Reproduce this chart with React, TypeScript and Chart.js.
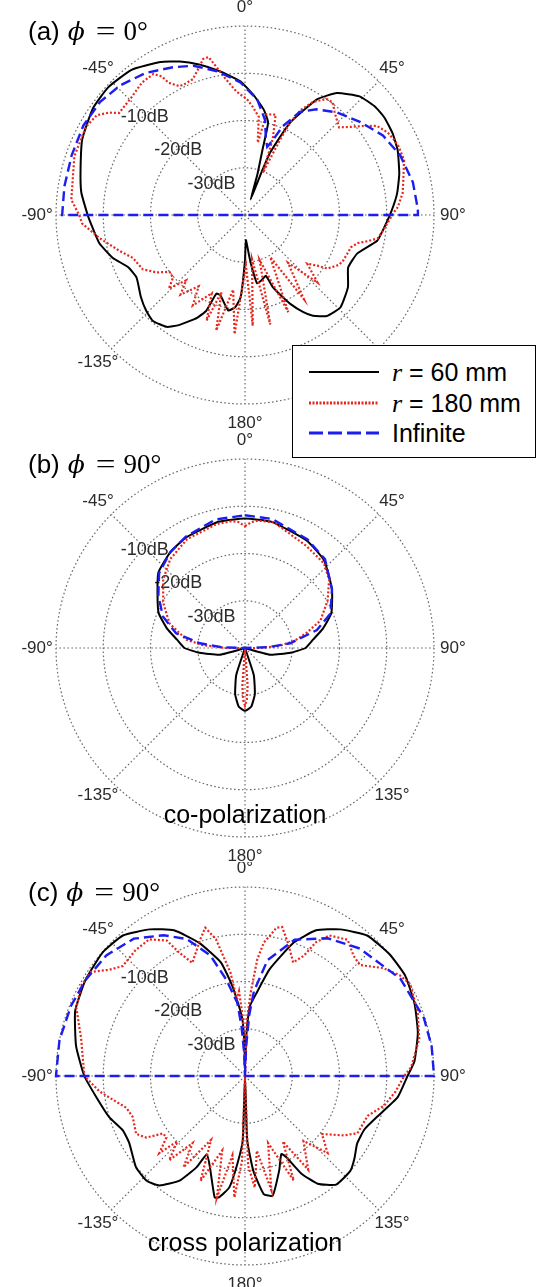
import React, { useEffect, useRef } from 'react';
import { Chart, registerables } from 'chart.js';

Chart.register(...registerables);

// ---------- axis / tick definitions ----------
const ANGLE_LABELS = Array.from({ length: 360 }, (_, i) => `${i}°`);
const ANGLE_TICK_DEGS = [0, 45, 90, 135, 180, 225, 270, 315];
const ANGLE_TICK_TEXT = ['0°', '45°', '90°', '135°', '180°', '-135°', '-90°', '-45°'];
const RING_VALUES = [-10, -20, -30];
const RING_TEXT = ['-10dB', '-20dB', '-30dB'];
const SERIES_NAMES = ['r = 60 mm', 'r = 180 mm', 'Infinite'];

// ---------- data: [angle (deg, clockwise from top), level (dB)] ----------
const aBlack: [number, number][] = [
  [4, -14.5], [10, -17.3], [14, -19.8], [15, -25.7], [17, -31], [20, -36.5], [21, -31], [22, -25.7],
  [26, -18.3], [32, -11.1], [37, -7.7], [44, -5.1], [50, -4.2], [55, -4.0], [61, -4.3], [67, -4.9],
  [75, -6.2], [82, -7.5], [89, -9.1], [95, -10.4], [101, -11.5], [109, -14.9], [117, -15.5], [125, -13.4],
  [134, -11.9], [141, -12.5], [146, -14.3], [149, -16], [153, -18.9], [156, -21.4], [159, -23.7], [161, -26.4],
  [166, -25.7], [170, -25.3], [172, -28], [174, -31], [178, -34.7], [180, -30.4], [183, -22.6], [186, -20.4],
  [190, -19.5], [197, -22.2], [200, -22.3], [202, -18.2], [205, -16], [211, -12.8], [215, -11.1], [221, -10.3],
  [226, -10.9], [232, -12], [240, -13.5], [246, -12.9], [252, -10.6], [259, -8.6], [267, -7.3], [270, -6.7],
  [278, -5.0], [286, -3.8], [295, -2.0], [305, -0.7], [313, -0.4], [322, -1.0], [331, -3.0], [337, -4.7],
  [343, -6.7], [350, -9.1], [358, -11.7],
];
const aRed: [number, number][] = [
  [1, -15.5], [4, -17], [8, -19], [10, -24.5], [12, -18.2], [17, -17.8], [20, -22.8], [23, -30.3],
  [24, -27], [25, -22.4], [26, -18.2], [28, -14.8], [31, -12.1], [35, -10], [38, -9.8], [41, -11.1],
  [47, -12.8], [50, -11], [53, -8.7], [56, -6.3], [60, -5.1], [63, -4.7], [66, -4.4], [71, -4.4],
  [77, -5.6], [82, -6.3], [87, -7.6], [89, -8.5], [96, -10.5], [100, -11.5], [102, -13.4], [104, -15.4],
  [107, -16.6], [110, -16.8], [115, -17.1], [118, -17.5], [123, -19.2], [125, -21.3], [128, -23.3], [133, -19],
  [138, -26.4], [145, -18.3], [149, -29.6], [156, -17.5], [162, -30], [167, -16.2], [171, -30.5], [176, -16.5],
  [179, -29.4], [185, -14.7], [189, -24], [194, -14.8], [197, -22.9], [200, -16.2], [203, -22], [210, -17.9],
  [213, -22], [219, -18.3], [222, -21.4], [226, -17.6], [229, -19.8], [233, -20], [237, -17.7], [242, -15.5],
  [249, -14.6], [254, -12.4], [261, -8.8], [267, -5.5], [270, -4.9], [275, -3.1], [289, -1.8], [299, -1.5],
  [304, -2.2], [307, -4], [309, -5.7], [316, -5.4], [322, -4.5], [327, -4.4], [329, -5.8], [330, -7.7],
  [333, -9.4], [335, -9.5], [339, -9.2], [343, -7.1], [345, -5.8], [347, -5.7], [349, -8], [352, -11],
  [356, -13.8],
];
const aBlue: [number, number][] = [
  [6, -15.4], [12, -19.5], [15, -23], [18, -24.8], [20, -23.5], [23, -19.6], [28, -15.3], [34, -13],
  [42, -10.8], [51, -8.7], [60, -6.3], [69, -4.8], [79, -3.8], [88, -3.4], [90, -3.4], [180, -40],
  [270, -1.3], [279, -1.3], [289, -1.2], [299, -0.9], [308, -1.1], [316, -1.9], [325, -3.3], [334, -5.2],
  [341, -6.6], [349, -9], [358, -11.9],
];

const bBlack: [number, number][] = [
  [0, -12.6], [12, -12.7], [30, -13.8], [42, -15], [56, -17.8], [68, -20.3], [76, -23], [83, -25.5],
  [90, -27.2], [96, -30.3], [105, -34.5], [118, -40], [150, -40], [162, -34], [168, -30], [174, -27.5],
  [180, -26.7], [186, -27.5], [192, -30], [198, -34], [210, -40], [242, -40], [255, -34.5], [264, -30.3],
  [270, -27.2], [277, -25.5], [284, -23], [292, -20.3], [301, -18.4], [311, -15.7], [322, -14.3], [332, -13.5],
  [348, -12.7],
];
const bRed: [number, number][] = [
  [0, -14.2], [3, -13.3], [6, -12.9], [13, -12.7], [31, -14.8], [43, -15.5], [51, -17.1], [60, -19.8],
  [70, -23], [76, -26.5], [82, -29.5], [87, -33], [91, -38], [96, -40], [172, -40], [176, -32],
  [178, -29], [180, -27.8], [182, -29], [184, -32], [188, -40], [266, -40], [270, -36], [274, -31],
  [278, -27.5], [288, -23.2], [299, -20.2], [310, -17.4], [320, -15.4], [332, -13.9], [347, -13.1], [354, -13],
  [357, -13.3],
];
const bBlue: [number, number][] = [
  [0, -11.9], [12, -12.1], [30, -13.5], [42, -14.7], [56, -17.8], [68, -20.5], [76, -24.3], [84, -30.4],
  [88, -35], [90, -40], [270, -40], [272, -35], [276, -30.4], [282, -25.1], [291, -21.4], [301, -18.6],
  [311, -15.9], [322, -14.3], [332, -13.3], [347, -12.1],
];

const cBlack: [number, number][] = [
  [0, -38], [2, -31], [4, -25.2], [8, -22.2], [13, -16.8], [20, -10], [26, -5.7], [33, -3],
  [41, -0.6], [50, 0], [58, 0], [67, -1], [76, -2.3], [85, -4], [90, -5.6], [98, -7.4],
  [107, -10.7], [114, -12.3], [121, -12.3], [127, -11], [132, -10], [140, -10], [146, -12.5], [150, -16.2],
  [153, -20.7], [155, -21.8], [160, -18.8], [167, -14], [171, -14.7], [175, -19.9], [178, -26.4], [180, -40],
  [182, -26.4], [185, -21.3], [188, -16.2], [192, -13.8], [194, -13.5], [201, -19.3], [206, -21.6], [208, -18.1],
  [212, -13.9], [218, -10.6], [223, -9.6], [230, -9.9], [240, -11.7], [246, -11.7], [253, -10], [262, -8.2],
  [270, -6], [280, -3.7], [291, -1.5], [301, -0.6], [311, -0.1], [319, -0.6], [327, -3], [334, -5.7],
  [341, -10.2], [348, -15.4], [352, -20.8], [357, -27.4], [359, -33],
];
const cRed: [number, number][] = [
  [0, -40], [2, -28], [4, -22], [6, -15.2], [8, -11.5], [10, -9.9], [12, -7.9], [14, -7.5],
  [18, -10.5], [23, -13.9], [26, -11.7], [28, -7.9], [31, -5.3], [37, -3.9], [42, -5.7], [46, -6.2],
  [52, -2.9], [57, -0.9], [61, 0], [66, -0.7], [70, -1.1], [78, -2.3], [87, -4.8], [90, -6.3],
  [96, -8], [102, -9.9], [108, -12.7], [117, -13.3], [121, -15.6], [127, -19.6], [133, -16.1], [138, -21.5],
  [146, -16.1], [150, -24], [155, -15.6], [161, -25], [167, -15.2], [171, -24], [175, -16.3], [178, -21],
  [180, -40], [182, -22], [185, -14.2], [189, -23], [193, -13.6], [197, -23.5], [203, -15.9], [208, -24.7],
  [214, -16.7], [218, -22], [222, -16], [226, -20.1], [228, -15.6], [232, -18.9], [235, -18.8], [238, -15.4],
  [242, -13.9], [250, -14.7], [255, -14], [260, -11.5], [264, -9], [270, -6], [283, -4.4], [292, -1.5],
  [299, -0.4], [304, -0.6], [308, -3.5], [312, -5.2], [319, -4.7], [325, -4.7], [330, -6.9], [332, -10.5],
  [335, -13.6], [342, -9.5], [345, -7.5], [348, -10.4], [352, -17.9], [354, -23.7], [356, -22], [358, -28],
];
const cBlue: [number, number][] = [
  [0, -40], [2, -34], [4, -27], [6, -22], [11, -15], [20, -9.3], [31, -6], [42, -3.7],
  [58, -1.2], [72, -0.2], [81, 0], [90, 0], [180, -40], [270, 0], [281, 0], [292, -0.3],
  [301, -0.6], [311, -1.1], [321, -2.6], [330, -5.6], [337, -8.5], [344, -13.5], [349, -19.2], [354, -24.4],
  [356, -29.5], [358, -35.2],
];

// ---------- panel descriptions ----------
const PANELS = [
  { key: 'a', tag: '(a)', phi: '0°', caption: '', top: 0, height: 432, pad: { left: 56, right: 103, top: 26, bottom: 28 }, black: aBlack, red: aRed, blue: aBlue },
  { key: 'b', tag: '(b)', phi: '90°', caption: 'co-polarization', top: 432, height: 430, pad: { left: 56, right: 103, top: 27, bottom: 25 }, black: bBlack, red: bRed, blue: bBlue },
  { key: 'c', tag: '(c)', phi: '90°', caption: 'cross polarization', top: 862, height: 425, pad: { left: 56, right: 103, top: 25, bottom: 22 }, black: cBlack, red: cRed, blue: cBlue },
];

const COLORS = { black: '#000000', red: '#e8261c', blue: '#1d1df0', grid: '#6a6a6a', label: '#2b2b2b' };
const SANS = '"Liberation Sans", Arial, Helvetica, sans-serif';
const SERIF = '"DejaVu Serif", "Liberation Serif", serif';
const SERIF_TEXT = '"Liberation Serif", "Times New Roman", serif';

function toSeries(pairs: [number, number][]) {
  const out: (number | null)[] = new Array(ANGLE_LABELS.length).fill(null);
  pairs.forEach(([a, v]) => {
    const idx = ((Math.round(a) % 360) + 360) % 360;
    out[idx] = v;
  });
  return out;
}

function decorPlugin(panel: typeof PANELS[number]) {
  return {
    id: 'decor' + panel.key,
    beforeDatasetsDraw(chart: any) {
      const s = chart.scales.r;
      const cx = s.xCenter;
      const cy = s.yCenter;
      const R = s.drawingArea;
      const ctx = chart.ctx as CanvasRenderingContext2D;
      ctx.save();
      ctx.fillStyle = COLORS.label;
      ctx.textAlign = 'center';
      ctx.textBaseline = 'middle';
      ctx.font = `17px ${SANS}`;
      ANGLE_TICK_DEGS.forEach((deg, i) => {
        const t = (deg * Math.PI) / 180;
        ctx.fillText(ANGLE_TICK_TEXT[i], cx + Math.sin(t) * R * 1.1, cy - Math.cos(t) * R * 1.1);
      });
      ctx.font = `18px ${SANS}`;
      RING_VALUES.forEach((v, i) => {
        const d = s.getDistanceFromCenterForValue(v);
        ctx.fillText(RING_TEXT[i], cx - d * Math.SQRT1_2, cy - d * Math.SQRT1_2 + 2);
      });
      // panel title
      ctx.fillStyle = '#000';
      ctx.textAlign = 'left';
      let x = cx - 217;
      const y = cy - 182;
      ctx.font = `26px ${SANS}`;
      ctx.fillText(panel.tag, x, y);
      x += ctx.measureText(panel.tag).width + 8;
      ctx.font = `italic 25px ${SERIF}`;
      ctx.fillText('ϕ', x, y);
      x += ctx.measureText('ϕ').width + 11;
      ctx.font = `27px ${SERIF_TEXT}`;
      ctx.save();
      ctx.translate(x, y);
      ctx.scale(1.3, 1);
      ctx.fillText('=', 0, 0);
      ctx.restore();
      x += ctx.measureText('=').width * 1.3 + 8;
      ctx.fillText(panel.phi, x, y);
      if (panel.caption) {
        ctx.textAlign = 'center';
        ctx.font = `25px ${SANS}`;
        ctx.fillText(panel.caption, cx, cy + 168);
      }
      ctx.restore();
    },
  };
}

function PolarPanel({ panel }: { panel: typeof PANELS[number] }) {
  const ref = useRef<HTMLCanvasElement>(null);
  useEffect(() => {
    const canvas = ref.current;
    if (!canvas) return;
    const chart = new Chart(canvas, {
      type: 'radar',
      data: {
        labels: ANGLE_LABELS,
        datasets: [
          {
            label: SERIES_NAMES[2],
            data: toSeries(panel.blue),
            borderColor: COLORS.blue,
            borderWidth: 2.4,
            borderDash: [10, 5],
            tension: 0,
          },
          {
            label: SERIES_NAMES[1],
            data: toSeries(panel.red),
            borderColor: COLORS.red,
            borderWidth: 2.2,
            borderDash: [2, 2],
            tension: 0,
          },
          {
            label: SERIES_NAMES[0],
            data: toSeries(panel.black),
            borderColor: COLORS.black,
            borderWidth: 2,
            tension: 0.15,
          },
        ].map((d) => ({ ...d, fill: false, spanGaps: true, pointRadius: 0, pointHoverRadius: 0, backgroundColor: 'transparent' })),
      },
      options: {
        animation: false,
        responsive: false,
        devicePixelRatio: 1,
        events: [],
        layout: { padding: panel.pad },
        plugins: { legend: { display: false }, tooltip: { enabled: false }, title: { display: false } },
        scales: {
          r: {
            min: -40,
            max: 0,
            startAngle: 0,
            ticks: { display: false, stepSize: 10 },
            pointLabels: { display: false },
            grid: { circular: true, color: COLORS.grid, lineWidth: 1.2 },
            border: { dash: [1.6, 2.4] },
            angleLines: {
              display: true,
              color: COLORS.grid,
              lineWidth: (c: any) => (c.index % 45 === 0 ? 1.2 : 0),
              borderDash: [1.6, 2.4],
            },
          },
        },
      } as any,
      plugins: [decorPlugin(panel)],
    });
    return () => chart.destroy();
  }, [panel]);
  return (
    <canvas
      ref={ref}
      width={537}
      height={panel.height}
      style={{ position: 'absolute', left: 0, top: panel.top, width: 537, height: panel.height, display: 'block' }}
    />
  );
}

const LEGEND_ROWS = [
  { name: SERIES_NAMES[0], color: COLORS.black, dash: '', width: 2.2, y: 26 },
  { name: SERIES_NAMES[1], color: COLORS.red, dash: '2 1.5', width: 3, y: 57 },
  { name: SERIES_NAMES[2], color: COLORS.blue, dash: '14 5', width: 3, y: 87 },
];

function Legend() {
  return (
    <div
      style={{
        position: 'absolute', left: 292, top: 345, width: 242, height: 111,
        border: '1.5px solid #000', background: '#fff', zIndex: 5, fontFamily: SANS, fontSize: 25, color: '#000',
      }}
    >
      {LEGEND_ROWS.map((row) => {
        const isR = row.name.startsWith('r ');
        return (
          <div key={row.name} style={{ position: 'absolute', left: 0, top: row.y - 15, height: 30, width: 242 }}>
            <svg width={90} height={30} style={{ position: 'absolute', left: 14, top: 0 }}>
              <line x1={2} y1={15} x2={72} y2={15} stroke={row.color} strokeWidth={row.width} strokeDasharray={row.dash || undefined} />
            </svg>
            <div style={{ position: 'absolute', left: 99, top: 0, lineHeight: '30px', whiteSpace: 'nowrap' }}>
              {isR ? (
                <>
                  <span style={{ fontFamily: SERIF_TEXT, fontStyle: 'italic', fontSize: 26 }}>r</span>
                  {row.name.slice(1)}
                </>
              ) : (
                row.name
              )}
            </div>
          </div>
        );
      })}
    </div>
  );
}

export default function App() {
  return (
    <div style={{ position: 'absolute', left: 0, top: 0, width: 537, height: 1287, background: '#fff', overflow: 'hidden' }}>
      {PANELS.map((p) => (
        <PolarPanel key={p.key} panel={p} />
      ))}
      <Legend />
    </div>
  );
}
